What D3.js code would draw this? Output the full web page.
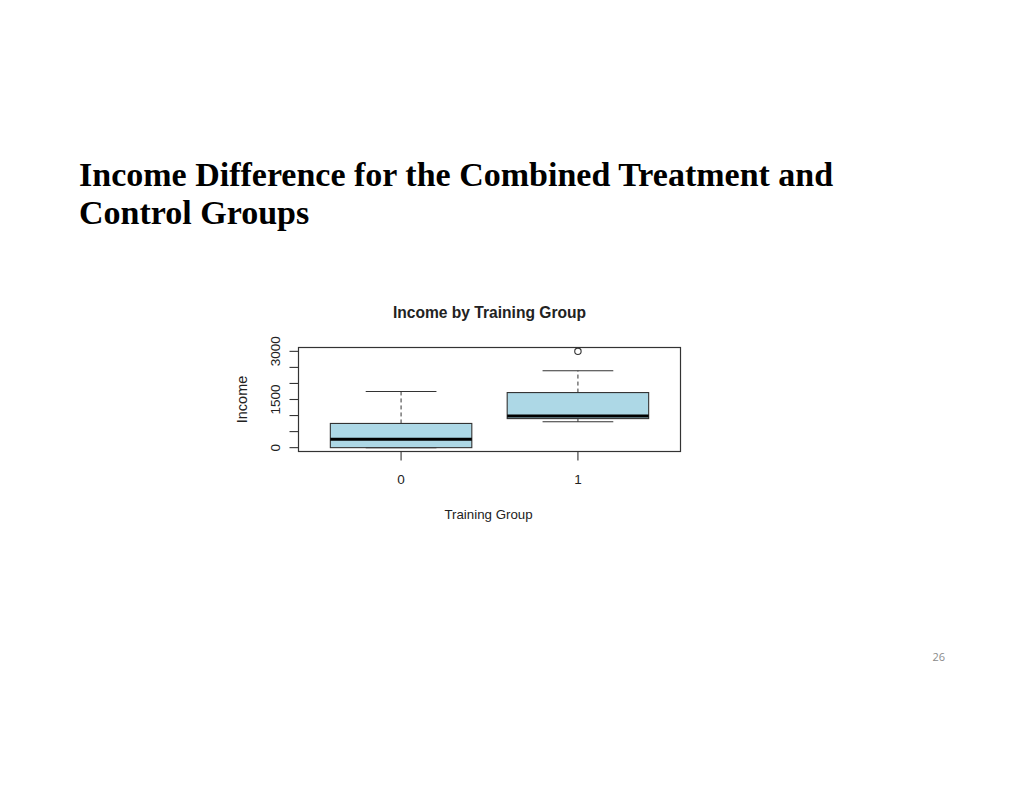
<!DOCTYPE html>
<html><head><meta charset="utf-8">
<script src="https://cdn.jsdelivr.net/npm/d3@7"></script>
<style>body{margin:0;background:#fff;}svg{display:block;}</style>
</head><body>
<script>
const groups = ["0", "1"];
const q1 = [0, 905];
const median = [258, 985];
const q3 = [754, 1716];
const whiskerLow = [0, 807];
const whiskerHigh = [1747, 2398];
const outliers = [[], [3000]];
const yTicks = [0, 500, 1000, 1500, 2000, 2500, 3000];
const yLabels = [0, 1500, 3000];

const W = 1024, H = 791;
const svg = d3.select("body").append("svg").attr("width", W).attr("height", H);

svg.append("text").attr("x", 79).attr("y", 186)
  .attr("font-family", "Liberation Serif, Times New Roman, serif")
  .attr("font-weight", "bold").attr("font-size", 34).attr("fill", "#000")
  .text("Income Difference for the Combined Treatment and");
svg.append("text").attr("x", 79).attr("y", 224)
  .attr("font-family", "Liberation Serif, Times New Roman, serif")
  .attr("font-weight", "bold").attr("font-size", 34).attr("fill", "#000")
  .text("Control Groups");

svg.append("text").attr("x", 945).attr("y", 661).attr("text-anchor", "end")
  .attr("font-family", "Open Sans, Liberation Sans, sans-serif")
  .attr("font-size", 11).attr("fill", "#8a8a8a").text("26");

const L = 298.5, R = 680.5, T = 347.5, B = 451.5;
const x = d3.scaleLinear().domain([0.42, 2.58]).range([L, R]);
const y = d3.scaleLinear().domain([-120, 3120]).range([B, T]);
const font = "Liberation Sans, Arial, sans-serif";
const col = "#333";

// plot box
svg.append("rect").attr("x", L).attr("y", T).attr("width", R - L).attr("height", B - T)
  .attr("fill", "none").attr("stroke", col).attr("stroke-width", 1.2);

// title
svg.append("text").attr("x", (L + R) / 2).attr("y", 318).attr("text-anchor", "middle")
  .attr("font-family", font).attr("font-weight", "bold").attr("font-size", 15.6)
  .attr("fill", "#222").text("Income by Training Group");

// y axis ticks (on box edge)
yTicks.forEach(t => {
  svg.append("line").attr("x1", L - 9).attr("x2", L)
    .attr("y1", y(t)).attr("y2", y(t)).attr("stroke", col).attr("stroke-width", 1.1);
});
yLabels.forEach(t => {
  svg.append("text").attr("transform", `translate(280,${y(t)}) rotate(-90)`)
    .attr("text-anchor", "middle").attr("font-family", font).attr("font-size", 13.5)
    .attr("fill", "#222").text(t);
});
svg.append("text").attr("transform", `translate(246.5,${(T + B) / 2}) rotate(-90)`)
  .attr("text-anchor", "middle").attr("font-family", font).attr("font-size", 14.5)
  .attr("fill", "#222").text("Income");

// x axis ticks (on box edge)
groups.forEach((g, i) => {
  svg.append("line").attr("x1", x(i + 1)).attr("x2", x(i + 1))
    .attr("y1", B).attr("y2", B + 9).attr("stroke", col).attr("stroke-width", 1.1);
  svg.append("text").attr("x", x(i + 1)).attr("y", 483.5).attr("text-anchor", "middle")
    .attr("font-family", font).attr("font-size", 13.5).attr("fill", "#222").text(g);
});
svg.append("text").attr("x", (L + R) / 2 - 1).attr("y", 519).attr("text-anchor", "middle")
  .attr("font-family", font).attr("font-size", 13.3).attr("fill", "#222").text("Training Group");

// boxes
const bw = 0.4, sw = 0.2;
groups.forEach((g, i) => {
  const c = i + 1;
  svg.append("line").attr("x1", x(c)).attr("x2", x(c)).attr("y1", y(q3[i])).attr("y2", y(whiskerHigh[i]))
    .attr("stroke", col).attr("stroke-width", 1).attr("stroke-dasharray", "4,3");
  svg.append("line").attr("x1", x(c)).attr("x2", x(c)).attr("y1", y(q1[i])).attr("y2", y(whiskerLow[i]))
    .attr("stroke", col).attr("stroke-width", 1).attr("stroke-dasharray", "4,3");
  [whiskerHigh[i], whiskerLow[i]].forEach(v => {
    svg.append("line").attr("x1", x(c - sw)).attr("x2", x(c + sw)).attr("y1", y(v)).attr("y2", y(v))
      .attr("stroke", col).attr("stroke-width", 1.1);
  });
  svg.append("rect").attr("x", x(c - bw)).attr("y", y(q3[i]))
    .attr("width", x(c + bw) - x(c - bw)).attr("height", y(q1[i]) - y(q3[i]))
    .attr("fill", "#add8e6").attr("stroke", col).attr("stroke-width", 1.1);
  svg.append("line").attr("x1", x(c - bw)).attr("x2", x(c + bw)).attr("y1", y(median[i])).attr("y2", y(median[i]))
    .attr("stroke", "#000").attr("stroke-width", 3);
  outliers[i].forEach(v => {
    svg.append("circle").attr("cx", x(c)).attr("cy", y(v)).attr("r", 3.2)
      .attr("fill", "none").attr("stroke", col).attr("stroke-width", 1.1);
  });
});
</script>
</body></html>
